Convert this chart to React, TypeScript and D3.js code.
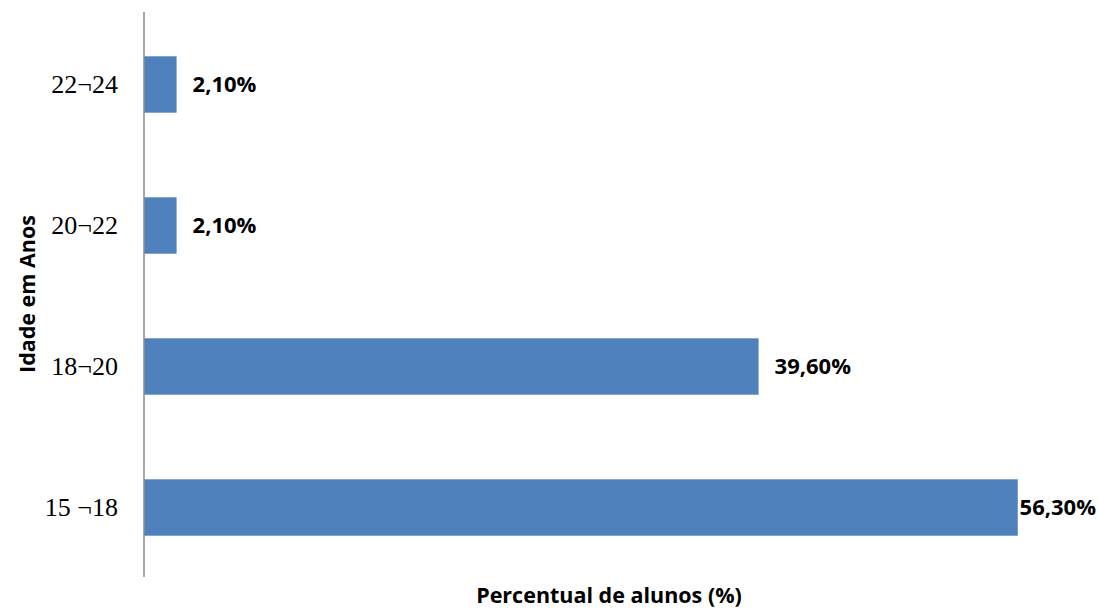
import React from "react";
import * as d3 from "d3";

const categories = ["22¬24", "20¬22", "18¬20", "15 ¬18"];
const values = [2.1, 2.1, 39.6, 56.3];
const valueLabels = ["2,10%", "2,10%", "39,60%", "56,30%"];
const yTitle = "Idade em Anos";
const xTitle = "Percentual de alunos (%)";

const W = 1099;
const H = 610;

export default function App() {
  const x = d3.scaleLinear().domain([0, 60]).range([144, 144 + 60 * 15.52]);
  const y = d3.scaleBand<string>().domain(categories).range([14, 578]).paddingInner(0.6).paddingOuter(0.3);
  const labelFont = "'Open Sans', 'Liberation Sans', sans-serif";
  const labelSize = 22;
  return (
    <svg width={W} height={H} style={{ position: "absolute", left: 0, top: 0, background: "#fff" }}>
      {categories.map((c, i) => {
        const y0 = y(c)!;
        const bw = y.bandwidth();
        const xe = x(values[i]);
        const approxW = valueLabels[i].length * labelSize * 0.58;
        const fits = xe + 16 + approxW < W - 2;
        return (
          <g key={c}>
            <rect x={x(0)} y={y0} width={xe - x(0)} height={bw} fill="#4F81BD" />
            <text
              x={fits ? xe + 16 : W - 3}
              y={y0 + bw / 2}
              dy="0.36em"
              textAnchor={fits ? "start" : "end"}
              fontFamily={labelFont}
              fontWeight="bold"
              fontSize={labelSize}
              fill="#000"
            >
              {valueLabels[i]}
            </text>
            <text
              x={118}
              y={y0 + bw / 2}
              dy="0.34em"
              textAnchor="end"
              fontFamily="'Liberation Serif', 'DejaVu Serif', serif"
              fontSize={26}
              fill="#000"
            >
              {c}
            </text>
          </g>
        );
      })}
      <line x1={144} x2={144} y1={12} y2={577} stroke="#8c8c8c" strokeWidth={1.5} />
      <text
        transform={`translate(35, 294) rotate(-90)`}
        textAnchor="middle"
        fontFamily={labelFont}
        fontWeight="bold"
        fontSize={21.5}
        fill="#000"
      >
        {yTitle}
      </text>
      <text
        x={609}
        y={603}
        textAnchor="middle"
        fontFamily={labelFont}
        fontWeight="bold"
        fontSize={21.5}
        fill="#000"
      >
        {xTitle}
      </text>
    </svg>
  );
}
